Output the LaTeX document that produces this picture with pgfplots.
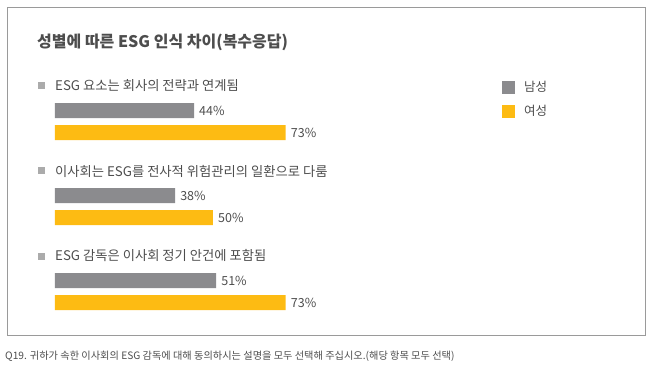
\documentclass[border=0pt]{standalone}
\usepackage{fontspec}
\setmainfont{Noto Sans CJK KR}
\usepackage{pgfplots}
\pgfplotsset{compat=1.18}
\definecolor{bargray}{HTML}{8B8B8E}
\definecolor{baryellow}{HTML}{FDBB13}
\definecolor{txt}{HTML}{4D4D4D}
\definecolor{framec}{HTML}{9A9A9A}
\definecolor{bulletc}{HTML}{ABABAB}
\begin{document}
\begin{tikzpicture}
\useasboundingbox (0,0) rectangle (652pt,-371pt);
\draw[framec, line width=0.9pt] (7pt,-7pt) rectangle (645pt,-335pt);
\node[anchor=west, font=\fontsize{16}{19}\selectfont\bfseries, text=txt, inner sep=0pt] at (37pt,-42pt) {성별에 따른 ESG 인식 차이(복수응답)};
\foreach \yy/\lab in {86/{ESG 요소는 회사의 전략과 연계됨}, 171/{이사회는 ESG를 전사적 위험관리의 일환으로 다룸}, 256/{ESG 감독은 이사회 정기 안건에 포함됨}}{
  \fill[bulletc] (38pt,-\yy pt+3.5pt) rectangle (45pt,-\yy pt-3.5pt);
  \node[anchor=west, font=\fontsize{13.3}{16}\selectfont, text=txt, inner sep=0pt] at (55pt,-\yy pt) {\lab};
}
\node[anchor=west, font=\fontsize{10.2}{12}\selectfont, text=txt, inner sep=0pt] at (5pt,-356pt) {Q19. 귀하가 속한 이사회의 ESG 감독에 대해 동의하시는 설명을 모두 선택해 주십시오.(해당 항목 모두 선택)};
\begin{axis}[at={(0pt,0pt)}, anchor=north west, width=652pt, height=371pt, scale only axis, hide axis,
  xmin=-17.4, xmax=188.92, ymin=0, ymax=371, y dir=reverse,
  xbar, bar width=15pt, clip=false,
  point meta=x,
  /pgf/number format/assume math mode=true,
  nodes near coords={\pgfmathprintnumber{\pgfplotspointmeta}\%},
  every node near coord/.append style={font=\fontsize{12.5}{14}\selectfont, text=txt, anchor=west, inner sep=0pt, xshift=5pt},
  legend style={at={(axis cs:141.46,81)}, anchor=north west, draw=none, fill=none, inner sep=0pt, outer sep=0pt,
    font=\fontsize{12.5}{14}\selectfont, text=txt, row sep=10.5pt, legend cell align=left,
    nodes={inner sep=0pt, anchor=west}},
  legend image code/.code={\fill[#1] (0pt,-6.5pt) rectangle (13pt,6.5pt);},
  legend entries={\hspace{9pt}남성, \hspace{9pt}여성},
]
\addplot[fill=bargray, draw=none, bar shift=0pt] coordinates {(44,110.5) (38,195.5) (51,280.5)};
\addplot[fill=baryellow, draw=none, bar shift=0pt] coordinates {(73,132.5) (50,217.5) (73,302.5)};
\end{axis}
\end{tikzpicture}
\end{document}
